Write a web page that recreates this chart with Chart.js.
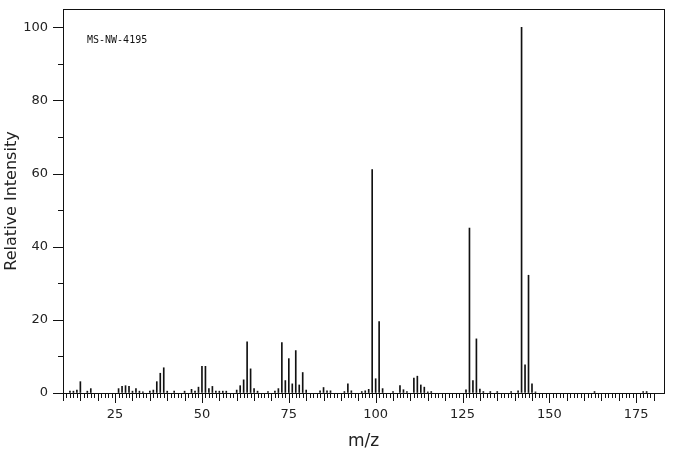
<!DOCTYPE html>
<html>
<head>
<meta charset="utf-8">
<script src="https://cdn.jsdelivr.net/npm/chart.js@4"></script>
<style>
  html, body { margin: 0; padding: 0; background: #fff; }
  #wrap { width: 676px; height: 455px; }
</style>
</head>
<body>
<div id="wrap"><canvas id="msChart" width="676" height="455"></canvas></div>
<script>
// マススペクトル（MS-NW-4195）

const sampleId = 'MS-NW-4195';

// m/z と相対強度
const mzValues = [
  12, 13, 14, 15, 17, 18, 26, 27, 28, 29, 30, 31, 32, 33, 35, 36, 37, 38, 39, 40,
  42, 45, 47, 48, 49, 50, 51, 52, 53, 54, 55, 56, 57, 60, 61, 62, 63, 64, 65, 66,
  69, 71, 72, 73, 74, 75, 76, 77, 78, 79, 80, 84, 85, 86, 87, 91, 92, 93, 96, 97,
  98, 99, 100, 101, 102, 105, 107, 108, 109, 111, 112, 113, 114, 115, 116, 126, 127, 128, 129, 130,
  131, 133, 135, 139, 141, 142, 143, 144, 145, 146, 163, 177, 178
];
const intensities = [
  0.5, 0.5, 0.8, 3.1, 0.5, 1.2, 1.2, 1.8, 2.0, 1.8, 0.5, 1.2, 0.5, 0.3, 0.5, 0.8, 3.1, 5.4, 6.9, 0.5,
  0.5, 0.5, 1.0, 0.5, 1.6, 7.3, 7.3, 1.2, 1.8, 0.5, 0.5, 0.5, 0.5, 0.8, 2.0, 3.6, 14.0, 6.6, 1.2, 0.5,
  0.4, 0.5, 1.2, 13.8, 3.4, 9.4, 2.5, 11.6, 2.2, 5.6, 0.8, 0.6, 1.5, 0.6, 0.6, 0.4, 2.5, 0.6, 0.4, 0.6,
  1.0, 61.1, 3.9, 19.5, 1.2, 0.4, 2.0, 0.9, 0.4, 4.1, 4.6, 2.2, 1.6, 0.3, 0.4, 0.9, 45.1, 3.4, 14.8, 1.1,
  0.4, 0.4, 0.4, 0.4, 0.6, 100, 7.7, 32.2, 2.5, 0.3, 0.4, 0.4, 0.4
];

// 目盛り
const xTickLabels = [25, 50, 75, 100, 125, 150, 175];
const yTickLabels = [0, 20, 40, 60, 80, 100];
const xMin = 10, xMax = 183, xTickEnd = 180;
const yMin = 0, yMax = 105;

const inkColor = '#111';
const fontFamily = "'DejaVu Sans', sans-serif";

// 枠線・細かい目盛り・サンプル名を描く
const frameTicksPlugin = {
  id: 'frameTicks',
  afterDraw(chart) {
    const { ctx, chartArea, scales } = chart;
    const xs = scales.x, ys = scales.y;
    ctx.save();
    ctx.strokeStyle = inkColor;
    ctx.lineWidth = 1;

    // 枠
    ctx.strokeRect(Math.round(chartArea.left) + 0.5, Math.round(chartArea.top) + 0.5,
      Math.round(chartArea.right - chartArea.left), Math.round(chartArea.bottom - chartArea.top));

    // x 軸の目盛り（1 刻み）
    ctx.beginPath();
    for (let v = xMin; v <= xTickEnd; v++) {
      const px = Math.round(xs.getPixelForValue(v)) + 0.5;
      const len = v % 25 === 0 ? 10 : (v % 5 === 0 ? 8 : 5);
      ctx.moveTo(px, chartArea.bottom);
      ctx.lineTo(px, chartArea.bottom + len);
    }
    // y 軸の目盛り（10 刻み）
    for (let v = 0; v <= 100; v += 10) {
      const py = Math.round(ys.getPixelForValue(v)) + 0.5;
      const len = v % 20 === 0 ? 10 : 5;
      ctx.moveTo(chartArea.left, py);
      ctx.lineTo(chartArea.left - len, py);
    }
    ctx.stroke();

    // サンプル名
    ctx.fillStyle = inkColor;
    ctx.font = "10px 'DejaVu Sans Mono', monospace";
    ctx.textBaseline = 'middle';
    ctx.textAlign = 'left';
    ctx.fillText(sampleId, chartArea.left + 24, chartArea.top + 31);
    ctx.restore();
  }
};

const ctx = document.getElementById('msChart').getContext('2d');

new Chart(ctx, {
  type: 'bar',
  data: {
    datasets: [{
      label: 'Relative Intensity',
      data: mzValues.map((mz, i) => ({ x: mz, y: intensities[i] })),
      backgroundColor: inkColor,
      borderWidth: 0,
      barThickness: 1
    }]
  },
  options: {
    responsive: false,
    animation: false,
    devicePixelRatio: 1,
    layout: { padding: { top: 9, right: 12, left: 0, bottom: 0 } },
    plugins: {
      legend: { display: false },
      tooltip: { enabled: false }
    },
    scales: {
      x: {
        type: 'linear',
        min: xMin,
        max: xMax,
        offset: false,
        afterBuildTicks: (scale) => { scale.ticks = xTickLabels.map(v => ({ value: v })); },
        afterFit: (scale) => { scale.height = 62; scale.paddingLeft = 0; scale.paddingRight = 0; },
        grid: { display: true, drawOnChartArea: false, tickLength: 10, tickColor: 'rgba(0,0,0,0)' },
        border: { display: false },
        ticks: {
          autoSkip: false,
          maxRotation: 0,
          padding: 4,
          color: '#222',
          font: { family: fontFamily, size: 13 }
        },
        title: {
          display: true,
          text: 'm/z',
          color: '#222',
          font: { family: fontFamily, size: 17 },
          padding: { top: 0, bottom: 3 }
        }
      },
      y: {
        min: yMin,
        max: yMax,
        afterBuildTicks: (scale) => { scale.ticks = yTickLabels.map(v => ({ value: v })); },
        afterFit: (scale) => { scale.width = 63; scale.paddingTop = 0; scale.paddingBottom = 0; },
        grid: { display: true, drawOnChartArea: false, tickLength: 10, tickColor: 'rgba(0,0,0,0)' },
        border: { display: false },
        ticks: {
          padding: 5,
          color: '#222',
          font: { family: fontFamily, size: 13 }
        },
        title: {
          display: true,
          text: 'Relative Intensity',
          color: '#222',
          font: { family: fontFamily, size: 16 },
          padding: { top: 2, bottom: 0 }
        }
      }
    }
  },
  plugins: [frameTicksPlugin]
});
</script>
</body>
</html>
